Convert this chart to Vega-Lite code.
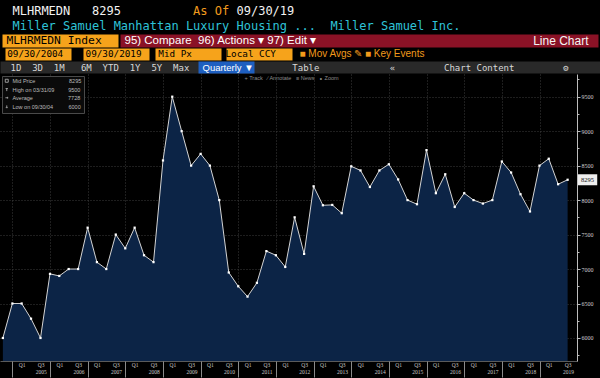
{
  "$schema": "https://vega.github.io/schema/vega-lite/v6.json",
  "width": 577,
  "height": 287,
  "autosize": {"type": "none"},
  "padding": {"left": 0, "top": 74, "right": 23, "bottom": 17},
  "background": "#000000",
  "config": {
    "view": {"stroke": null, "fill": "#040404"},
    "axis": {"titleFontWeight": "normal", "titleAngle": 0, "titleAlign": "left", "titleBaseline": "middle", "titlePadding": 0}
  },
  "data": {
    "values": [
      {"date": "2004-09-30", "price": 6000}, {"date": "2004-12-31", "price": 6500},
      {"date": "2005-03-31", "price": 6500}, {"date": "2005-06-30", "price": 6280}, {"date": "2005-09-30", "price": 6000}, {"date": "2005-12-31", "price": 6930},
      {"date": "2006-03-31", "price": 6900}, {"date": "2006-06-30", "price": 7000}, {"date": "2006-09-30", "price": 7000}, {"date": "2006-12-31", "price": 7600},
      {"date": "2007-03-31", "price": 7100}, {"date": "2007-06-30", "price": 7000}, {"date": "2007-09-30", "price": 7500}, {"date": "2007-12-31", "price": 7300},
      {"date": "2008-03-31", "price": 7600}, {"date": "2008-06-30", "price": 7200}, {"date": "2008-09-30", "price": 7100}, {"date": "2008-12-31", "price": 8575},
      {"date": "2009-03-31", "price": 9500}, {"date": "2009-06-30", "price": 9000}, {"date": "2009-09-30", "price": 8500}, {"date": "2009-12-31", "price": 8670},
      {"date": "2010-03-31", "price": 8500}, {"date": "2010-06-30", "price": 8000}, {"date": "2010-09-30", "price": 6950}, {"date": "2010-12-31", "price": 6750},
      {"date": "2011-03-31", "price": 6600}, {"date": "2011-06-30", "price": 6800}, {"date": "2011-09-30", "price": 7260}, {"date": "2011-12-31", "price": 7200},
      {"date": "2012-03-31", "price": 7030}, {"date": "2012-06-30", "price": 7750}, {"date": "2012-09-30", "price": 7220}, {"date": "2012-12-31", "price": 8200},
      {"date": "2013-03-31", "price": 7925}, {"date": "2013-06-30", "price": 7930}, {"date": "2013-09-30", "price": 7810}, {"date": "2013-12-31", "price": 8490},
      {"date": "2014-03-31", "price": 8430}, {"date": "2014-06-30", "price": 8190}, {"date": "2014-09-30", "price": 8430}, {"date": "2014-12-31", "price": 8520},
      {"date": "2015-03-31", "price": 8300}, {"date": "2015-06-30", "price": 8000}, {"date": "2015-09-30", "price": 7940}, {"date": "2015-12-31", "price": 8725},
      {"date": "2016-03-31", "price": 8100}, {"date": "2016-06-30", "price": 8375}, {"date": "2016-09-30", "price": 7900}, {"date": "2016-12-31", "price": 8100},
      {"date": "2017-03-31", "price": 8000}, {"date": "2017-06-30", "price": 7950}, {"date": "2017-09-30", "price": 8000}, {"date": "2017-12-31", "price": 8560},
      {"date": "2018-03-31", "price": 8400}, {"date": "2018-06-30", "price": 8085}, {"date": "2018-09-30", "price": 7835}, {"date": "2018-12-31", "price": 8500},
      {"date": "2019-03-31", "price": 8600}, {"date": "2019-06-30", "price": 8230}, {"date": "2019-09-30", "price": 8295}
    ]
  },
  "resolve": {"axis": {"x": "independent", "y": "independent"}},
  "layer": [
    {
      "mark": {"type": "area", "color": "#0c2446", "clip": true},
      "encoding": {
        "x": {
          "field": "date", "type": "temporal",
          "scale": {"type": "utc", "domain": [{"year": 2004, "month": 9, "date": 2, "utc": true}, {"year": 2019, "month": 12, "date": 30, "utc": true}]},
          "axis": {
            "orient": "bottom",
            "values": [
              {"year": 2005, "month": 3, "date": 31, "utc": true}, {"year": 2005, "month": 9, "date": 30, "utc": true},
              {"year": 2006, "month": 3, "date": 31, "utc": true}, {"year": 2006, "month": 9, "date": 30, "utc": true},
              {"year": 2007, "month": 3, "date": 31, "utc": true}, {"year": 2007, "month": 9, "date": 30, "utc": true},
              {"year": 2008, "month": 3, "date": 31, "utc": true}, {"year": 2008, "month": 9, "date": 30, "utc": true},
              {"year": 2009, "month": 3, "date": 31, "utc": true}, {"year": 2009, "month": 9, "date": 30, "utc": true},
              {"year": 2010, "month": 3, "date": 31, "utc": true}, {"year": 2010, "month": 9, "date": 30, "utc": true},
              {"year": 2011, "month": 3, "date": 31, "utc": true}, {"year": 2011, "month": 9, "date": 30, "utc": true},
              {"year": 2012, "month": 3, "date": 31, "utc": true}, {"year": 2012, "month": 9, "date": 30, "utc": true},
              {"year": 2013, "month": 3, "date": 31, "utc": true}, {"year": 2013, "month": 9, "date": 30, "utc": true},
              {"year": 2014, "month": 3, "date": 31, "utc": true}, {"year": 2014, "month": 9, "date": 30, "utc": true},
              {"year": 2015, "month": 3, "date": 31, "utc": true}, {"year": 2015, "month": 9, "date": 30, "utc": true},
              {"year": 2016, "month": 3, "date": 31, "utc": true}, {"year": 2016, "month": 9, "date": 30, "utc": true},
              {"year": 2017, "month": 3, "date": 31, "utc": true}, {"year": 2017, "month": 9, "date": 30, "utc": true},
              {"year": 2018, "month": 3, "date": 31, "utc": true}, {"year": 2018, "month": 9, "date": 30, "utc": true},
              {"year": 2019, "month": 3, "date": 31, "utc": true}, {"year": 2019, "month": 9, "date": 30, "utc": true}
            ],
            "labelExpr": "utcmonth(datum.value) < 6 ? 'Q1' : 'Q3'",
            "ticks": false, "grid": false, "domain": true, "domainColor": "#5a5a5a", "domainWidth": 1,
            "labelFont": "Liberation Serif", "labelFontSize": 5.5, "labelColor": "#c8c8c8", "labelPadding": 1,
            "labelBaseline": "top", "labelOverlap": false, "labelFlush": false, "labelBound": false,
            "title": "■ Mov Avgs ✎ ■ Key Events", "titleX": 299, "titleY": -308,
            "titleColor": "#f29a1b", "titleFont": "Liberation Sans", "titleFontSize": 10
          }
        },
        "y": {
          "field": "price", "type": "quantitative",
          "scale": {"domain": [5666, 9829], "zero": false, "nice": false},
          "axis": {
            "orient": "right",
            "values": [5750, 6000, 6250, 6500, 6750, 7000, 7250, 7500, 7750, 8000, 8250, 8500, 8750, 9000, 9250, 9500, 9750],
            "format": "d",
            "labelExpr": "datum.value % 500 == 0 ? datum.label : ''",
            "grid": true, "gridColor": "#3d3d3d", "gridDash": [1, 2],
            "gridOpacity": {"condition": {"test": "datum.value % 500 == 0", "value": 1}, "value": 0},
            "ticks": true, "tickColor": "#bdbdbd",
            "tickSize": {"condition": {"test": "datum.value % 500 == 0", "value": 3}, "value": 2},
            "domain": true, "domainColor": "#bdbdbd",
            "labelFont": "Liberation Serif", "labelFontSize": 6, "labelColor": "#d0d0d0", "labelPadding": 1,
            "labelBaseline": "middle", "labelOverlap": false, "labelFlush": false,
            "title": "Line Chart", "titleX": 11, "titleY": -33.5, "titleAlign": "right",
            "titleColor": "#f4f4f4", "titleFont": "Liberation Sans", "titleFontSize": 12
          }
        }
      }
    },
    {
      "mark": {"type": "line", "color": "#d4d4d4", "strokeWidth": 1, "clip": true},
      "encoding": {
        "x": {
          "field": "date", "type": "temporal",
          "scale": {"type": "utc", "domain": [{"year": 2004, "month": 9, "date": 2, "utc": true}, {"year": 2019, "month": 12, "date": 30, "utc": true}]},
          "axis": {
            "orient": "bottom",
            "values": [
              {"year": 2005, "month": 1, "date": 1, "utc": true}, {"year": 2006, "month": 1, "date": 1, "utc": true},
              {"year": 2007, "month": 1, "date": 1, "utc": true}, {"year": 2008, "month": 1, "date": 1, "utc": true},
              {"year": 2009, "month": 1, "date": 1, "utc": true}, {"year": 2010, "month": 1, "date": 1, "utc": true},
              {"year": 2011, "month": 1, "date": 1, "utc": true}, {"year": 2012, "month": 1, "date": 1, "utc": true},
              {"year": 2013, "month": 1, "date": 1, "utc": true}, {"year": 2014, "month": 1, "date": 1, "utc": true},
              {"year": 2015, "month": 1, "date": 1, "utc": true}, {"year": 2016, "month": 1, "date": 1, "utc": true},
              {"year": 2017, "month": 1, "date": 1, "utc": true}, {"year": 2018, "month": 1, "date": 1, "utc": true},
              {"year": 2019, "month": 1, "date": 1, "utc": true}
            ],
            "labelExpr": "utcFormat(datum.value, '%Y')",
            "grid": true, "gridColor": "#3d3d3d", "gridDash": [1, 2],
            "ticks": true, "tickColor": "#8a8a8a", "tickSize": 16,
            "domain": false,
            "labelFont": "Liberation Serif", "labelFontSize": 5.5, "labelColor": "#c8c8c8",
            "labelOffset": 28.3, "labelPadding": -7.5, "labelBaseline": "top",
            "labelOverlap": false, "labelFlush": false, "labelBound": false,
            "title": "+ Track\u00a0\u00a0\u00a0\u2215 Annotate\u00a0\u00a0\u00a0\u2261 News\u00a0\u00a0\u00a0\u2218 Zoom",
            "titleX": 244, "titleY": -283.5, "titleColor": "#8c8c8c", "titleFont": "Liberation Sans", "titleFontSize": 5.5
          }
        },
        "y": {
          "field": "price", "type": "quantitative",
          "scale": {"domain": [5666, 9829], "zero": false, "nice": false},
          "axis": {
            "orient": "right", "labels": false, "ticks": false, "domain": false, "grid": false,
            "title": "MLHRMEDN\u00a0\u00a0\u00a08295",
            "titleX": -565, "titleY": -63.5, "titleColor": "#f2f2f2", "titleFont": "DejaVu Sans Mono", "titleFontSize": 12
          }
        }
      }
    },
    {
      "mark": {"type": "point", "shape": "square", "size": 5, "filled": true, "color": "#ffffff", "opacity": 1},
      "encoding": {
        "x": {
          "field": "date", "type": "temporal",
          "scale": {"type": "utc", "domain": [{"year": 2004, "month": 9, "date": 2, "utc": true}, {"year": 2019, "month": 12, "date": 30, "utc": true}]},
          "axis": {
            "orient": "top", "offset": 27, "labels": false, "domain": false, "grid": false,
            "values": [{"year": 2006, "month": 4, "date": 7, "utc": true}, {"year": 2014, "month": 3, "date": 16, "utc": true}],
            "ticks": true, "tickSize": 13,
            "tickWidth": {"condition": {"test": "datum.value < 1300000000000", "value": 116}, "value": 478},
            "tickColor": {"condition": {"test": "datum.value < 1300000000000", "value": "#f6a31b"}, "value": "#8a1226"},
            "title": "MLHRMEDN Index", "titleX": 6, "titleY": -6.5, "titleColor": "#000000",
            "titleFont": "DejaVu Sans Mono", "titleFontSize": 11.3
          }
        },
        "y": {
          "field": "price", "type": "quantitative",
          "scale": {"domain": [5666, 9829], "zero": false, "nice": false},
          "axis": {
            "orient": "right", "labels": false, "ticks": false, "domain": false, "grid": false,
            "title": "As Of", "titleX": -384.5, "titleY": -63.5, "titleColor": "#f29b1d",
            "titleFont": "DejaVu Sans Mono", "titleFontSize": 12
          }
        }
      }
    },
    {
      "transform": [{"filter": "utcyear(datum.date) == 2019 && utcmonth(datum.date) == 8"}],
      "mark": {"type": "point", "shape": "M1.04,-0.55H2.96V0.55H1.04Z", "size": 400, "filled": true, "color": "#eeeeee", "opacity": 1},
      "encoding": {
        "x": {
          "field": "date", "type": "temporal",
          "scale": {"type": "utc", "domain": [{"year": 2004, "month": 9, "date": 2, "utc": true}, {"year": 2019, "month": 12, "date": 30, "utc": true}]},
          "axis": {
            "orient": "top", "offset": 14, "labels": false, "domain": false, "grid": false,
            "values": [
              {"year": 2005, "month": 9, "date": 10, "utc": true}, {"year": 2007, "month": 10, "date": 2, "utc": true},
              {"year": 2009, "month": 8, "date": 26, "utc": true}, {"year": 2011, "month": 7, "date": 20, "utc": true}
            ],
            "ticks": true, "tickSize": 12, "tickWidth": 66, "tickColor": "#f6a31b",
            "title": "09/30/2004\u00a0\u00a0\u00a0\u00a009/30/2019\u00a0\u00a0\u00a0Mid Px\u00a0\u00a0\u00a0\u00a0\u00a0\u00a0Local CCY",
            "titleX": 6.7, "titleY": -7, "titleColor": "#000000", "titleFont": "DejaVu Sans Mono", "titleFontSize": 9.3
          }
        },
        "y": {
          "field": "price", "type": "quantitative",
          "scale": {"domain": [5666, 9829], "zero": false, "nice": false},
          "axis": {
            "orient": "right", "labels": false, "ticks": false, "domain": false, "grid": false,
            "title": "Miller Samuel Manhattan Luxury Housing ...\u00a0\u00a0Miller Samuel Inc.",
            "titleX": -565, "titleY": -48.5, "titleColor": "#2fc3d8", "titleFont": "DejaVu Sans Mono", "titleFontSize": 12
          }
        }
      }
    },
    {
      "transform": [{"filter": "utcyear(datum.date) == 2019 && utcmonth(datum.date) == 8"}],
      "mark": {"type": "text", "dx": 20, "align": "center", "baseline": "middle", "font": "Liberation Serif", "fontSize": 6.5, "color": "#111111"},
      "encoding": {
        "x": {
          "field": "date", "type": "temporal",
          "scale": {"type": "utc", "domain": [{"year": 2004, "month": 9, "date": 2, "utc": true}, {"year": 2019, "month": 12, "date": 30, "utc": true}]},
          "axis": {
            "orient": "top", "offset": 1, "labels": false, "domain": false, "grid": false,
            "values": [{"year": 2012, "month": 8, "date": 21, "utc": true}],
            "ticks": true, "tickSize": 12, "tickWidth": 600, "tickColor": "#292929",
            "title": "1D\u00a0\u00a03D\u00a0\u00a01M\u00a0\u00a0\u00a06M\u00a0\u00a0YTD\u00a0\u00a01Y\u00a0\u00a05Y\u00a0\u00a0Max",
            "titleX": 10, "titleY": -6, "titleColor": "#d8d8d8", "titleFont": "DejaVu Sans Mono", "titleFontSize": 9
          }
        },
        "y": {
          "field": "price", "type": "quantitative",
          "scale": {"domain": [5666, 9829], "zero": false, "nice": false},
          "axis": {
            "orient": "right", "labels": false, "ticks": false, "domain": false, "grid": false,
            "title": "95) Compare\u00a0\u00a096) Actions ▾\u00a097) Edit ▾",
            "titleX": -453, "titleY": -33.5, "titleColor": "#ffffff", "titleFont": "Liberation Sans", "titleFontSize": 11.5
          }
        },
        "text": {"field": "price", "type": "quantitative", "format": "d"}
      }
    },
    {
      "mark": {"type": "rule", "opacity": 0},
      "encoding": {
        "x": {
          "field": "date", "type": "temporal",
          "scale": {"type": "utc", "domain": [{"year": 2004, "month": 9, "date": 2, "utc": true}, {"year": 2019, "month": 12, "date": 30, "utc": true}]},
          "axis": {
            "orient": "top", "offset": 1, "labels": false, "domain": false, "grid": false,
            "values": [{"year": 2010, "month": 9, "date": 3, "utc": true}],
            "ticks": true, "tickSize": 12, "tickWidth": 56, "tickColor": "#1e5fc0",
            "title": "Quarterly ▼", "titleX": 202, "titleY": -6, "titleColor": "#ffffff",
            "titleFont": "Liberation Sans", "titleFontSize": 9.5
          }
        }
      }
    },
    {
      "mark": {"type": "rule", "opacity": 0},
      "encoding": {
        "x": {
          "field": "date", "type": "temporal",
          "scale": {"type": "utc", "domain": [{"year": 2004, "month": 9, "date": 2, "utc": true}, {"year": 2019, "month": 12, "date": 30, "utc": true}]},
          "axis": {
            "orient": "top", "offset": 1, "labels": false, "domain": false, "grid": false, "ticks": false,
            "title": "Table\u00a0\u00a0\u00a0\u00a0\u00a0\u00a0\u00a0\u00a0\u00a0\u00a0\u00a0\u00a0\u00a0«\u00a0\u00a0\u00a0\u00a0\u00a0\u00a0\u00a0\u00a0\u00a0Chart Content\u00a0\u00a0\u00a0\u00a0\u00a0\u00a0\u00a0\u00a0\u00a0⚙",
            "titleX": 291.8, "titleY": -6, "titleColor": "#d8d8d8", "titleFont": "DejaVu Sans Mono", "titleFontSize": 9
          }
        }
      }
    },
    {
      "mark": {"type": "rule", "opacity": 0},
      "encoding": {
        "x": {
          "field": "date", "type": "temporal",
          "scale": {"type": "utc", "domain": [{"year": 2004, "month": 9, "date": 2, "utc": true}, {"year": 2019, "month": 12, "date": 30, "utc": true}]},
          "axis": {
            "orient": "top", "offset": 0, "labels": false, "domain": false, "grid": false, "ticks": false,
            "title": "09/30/19",
            "titleX": 236, "titleY": -63.5, "titleColor": "#f2f2f2", "titleFont": "DejaVu Sans Mono", "titleFontSize": 12
          }
        }
      }
    },
    {
      "data": {
        "values": [
          {"entry": "Mid Price\u00a0\u00a0\u00a0\u00a0\u00a0\u00a0\u00a0\u00a0\u00a0\u00a0\u00a0\u00a0\u00a0\u00a0\u00a0\u00a0\u00a0\u00a0\u00a0\u00a0\u00a0\u00a08295"},
          {"entry": "High on 03/31/09\u00a0\u00a0\u00a0\u00a0\u00a0\u00a0\u00a0\u00a0\u00a09500"},
          {"entry": "Average\u00a0\u00a0\u00a0\u00a0\u00a0\u00a0\u00a0\u00a0\u00a0\u00a0\u00a0\u00a0\u00a0\u00a0\u00a0\u00a0\u00a0\u00a0\u00a0\u00a0\u00a0\u00a0\u00a07728"},
          {"entry": "Low on 09/30/04\u00a0\u00a0\u00a0\u00a0\u00a0\u00a0\u00a0\u00a0\u00a0\u00a06000"}
        ]
      },
      "mark": {"type": "point", "filled": false, "color": "#bcbcbc", "opacity": 0, "strokeWidth": 0.8},
      "encoding": {
        "shape": {
          "field": "entry", "type": "nominal", "sort": null,
          "scale": {"range": ["square", "M-0.8,-0.8H0.8M0,-0.8V0.9", "M-0.9,0H0.9M0.4,-0.4L0.9,0L0.4,0.4", "M0,-0.9V0.9M-0.5,0.4L0,0.9L0.5,0.4"]},
          "legend": {
            "title": null, "orient": "top-left", "offset": 2, "padding": 2,
            "fillColor": "#0a0a0a", "strokeColor": "#4a4a4a", "cornerRadius": 0,
            "labelColor": "#bcbcbc", "labelFont": "Liberation Sans", "labelFontSize": 5.5, "labelOffset": 3,
            "symbolSize": 9, "symbolStrokeColor": "#bcbcbc", "symbolStrokeWidth": 0.8, "symbolOpacity": 1,
            "rowPadding": 1
          }
        }
      }
    }
  ]
}
